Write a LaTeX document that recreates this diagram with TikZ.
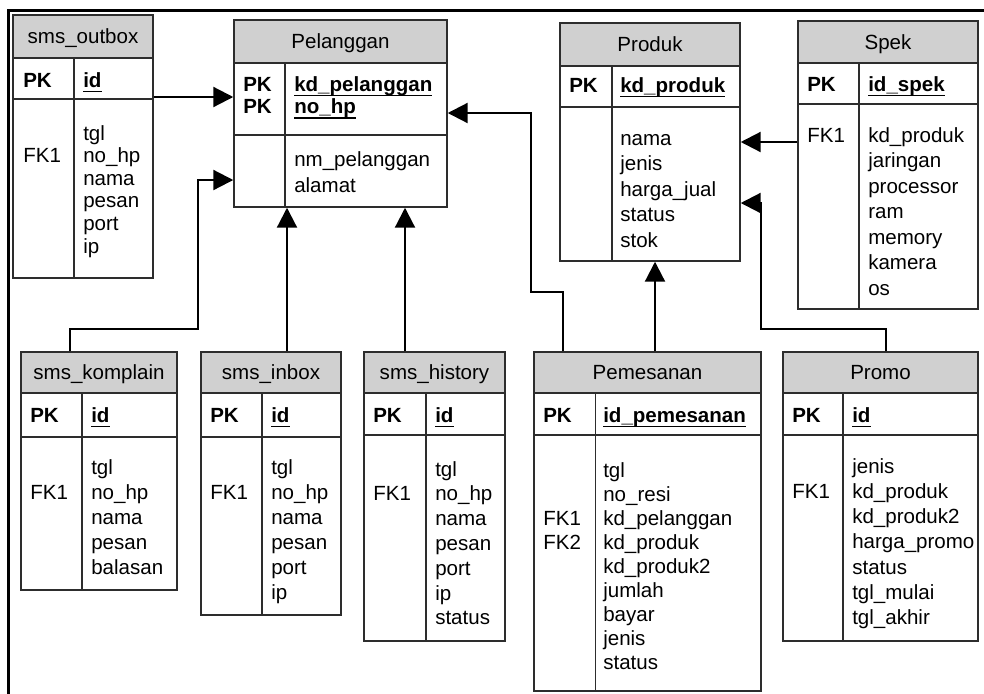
\documentclass[tikz,border=0pt]{standalone}
\usepackage{fontspec}
\setmainfont{Liberation Sans}
\usetikzlibrary{arrows.meta,fit}
\definecolor{hdrgray}{RGB}{208,208,208}
\definecolor{edgegray}{RGB}{45,45,45}
% bold key with a heavy underline
\newcommand\keyu[1]{\setbox0=\hbox{#1}\rlap{\rule[-4pt]{\wd0}{1.3pt}}\box0}
\tikzset{
  tbltxt/.style={font=\fontsize{15.4}{18}\selectfont, inner sep=0pt, anchor=base west},
  tblkey/.style={tbltxt, font=\fontsize{15.4}{18}\selectfont\bfseries},
  tbltitle/.style={font=\fontsize{15.4}{18}\selectfont, inner sep=0pt, anchor=base},
  tblframe/.style={draw=edgegray, line width=1.1pt, inner sep=0pt},
  tblline/.style={draw=edgegray, line width=1.1pt},
  fk/.style={line width=1.65pt, -{Triangle[length=15pt,width=15pt]}},
}
% #1 name, #2 left, #3 right, #4 divider, #5 top, #6 header bottom, #7 key bottom, #8 bottom, #9 title
\newcommand\ertable[9]{%
  \fill[hdrgray] (#2,#5) rectangle (#3,#6);
  \node[tblframe, fit={(#2,#5) (#3,#8)}] (#1) {};
  \draw[tblline] (#1.west |- 0,#6) -- (#1.east |- 0,#6)
                 (#1.west |- 0,#7) -- (#1.east |- 0,#7)
                 (#4,#6) -- (#1.south -| #4,0);
  \node[tbltitle] (#1-title) at ({(#2+#3)/2},{(#5+#6)/2+7}) {#9};
}
% #1 name, #2 x, #3 first baseline, #4 line step, #5 entries
\newcommand\fieldlist[5]{%
  \foreach \t [count=\i] in {#5} {\node[tbltxt] (#1-f\i) at (#2,{#3+(\i-1)*#4}) {\t};}
}
\begin{document}
\begin{tikzpicture}[x=0.75pt,y=-0.75pt]
\useasboundingbox (0,0) rectangle (984,693);
% outer frame
\draw[line width=1.9pt] (8.5,720) -- (8.5,10.7) -- (1000,10.7);

% ---------- sms_outbox ----------
\ertable{outbox}{13}{153}{74}{15}{58}{99}{278}{sms\_outbox}
\node[tblkey] (outbox-pk) at (23,87) {PK};
\node[tblkey] (outbox-id) at (83,87) {\keyu{id}};
\fieldlist{outbox}{83}{140}{22.6}{tgl, no\_hp, nama, pesan, port, ip}
\node[tbltxt] (outbox-fk1) at (23,162.6) {FK1};

% ---------- Pelanggan ----------
\ertable{pel}{234}{447}{285}{20}{63}{135}{207}{Pelanggan}
\node[tblkey] (pel-pk1) at (243,91) {PK};
\node[tblkey] (pel-pk2) at (243,113.5) {PK};
\node[tblkey] (pel-k1) at (294,91) {\keyu{kd\_pelanggan}};
\node[tblkey] (pel-k2) at (294,113.5) {\keyu{no\_hp}};
\fieldlist{pel}{294}{166}{26.5}{nm\_pelanggan, alamat}

% ---------- Produk ----------
\ertable{produk}{560}{740}{612}{23}{66}{107}{261}{Produk}
\node[tblkey] (produk-pk) at (569,92) {PK};
\node[tblkey] (produk-id) at (620,92) {\keyu{kd\_produk}};
\fieldlist{produk}{620}{145}{25.5}{nama, jenis, harga\_jual, status, stok}

% ---------- Spek ----------
\ertable{spek}{798}{978}{859}{21}{63}{104}{309}{Spek}
\node[tblkey] (spek-pk) at (807,91) {PK};
\node[tblkey] (spek-id) at (868,91) {\keyu{id\_spek}};
\fieldlist{spek}{868}{142}{25.5}{kd\_produk, jaringan, processor, ram, memory, kamera, os}
\node[tbltxt] (spek-fk1) at (807,142) {FK1};

% ---------- sms_komplain ----------
\ertable{komplain}{21}{177}{82}{352}{393}{437}{590}{sms\_komplain}
\node[tblkey] (komplain-pk) at (30,422) {PK};
\node[tblkey] (komplain-id) at (91,422) {\keyu{id}};
\fieldlist{komplain}{91}{474}{25}{tgl, no\_hp, nama, pesan, balasan}
\node[tbltxt] (komplain-fk1) at (30,499) {FK1};

% ---------- sms_inbox ----------
\ertable{inbox}{201}{341}{262}{352}{393}{437}{615}{sms\_inbox}
\node[tblkey] (inbox-pk) at (210,422) {PK};
\node[tblkey] (inbox-id) at (271,422) {\keyu{id}};
\fieldlist{inbox}{271}{474}{25}{tgl, no\_hp, nama, pesan, port, ip}
\node[tbltxt] (inbox-fk1) at (210,499) {FK1};

% ---------- sms_history ----------
\ertable{history}{364}{505}{426}{352}{393}{435}{641}{sms\_history}
\node[tblkey] (history-pk) at (373,422) {PK};
\node[tblkey] (history-id) at (435,422) {\keyu{id}};
\fieldlist{history}{435}{476}{24.8}{tgl, no\_hp, nama, pesan, port, ip, status}
\node[tbltxt] (history-fk1) at (373,500.8) {FK1};

% ---------- Pemesanan ----------
\ertable{pemesanan}{534}{761}{595.5}{352}{393}{435}{691}{Pemesanan}
\node[tblkey] (pemesanan-pk) at (543,422) {PK};
\node[tblkey] (pemesanan-id) at (603,422) {\keyu{id\_pemesanan}};
\fieldlist{pemesanan}{603}{477}{24}{tgl, no\_resi, kd\_pelanggan, kd\_produk, kd\_produk2, jumlah, bayar, jenis, status}
\node[tbltxt] (pemesanan-fk1) at (543,525) {FK1};
\node[tbltxt] (pemesanan-fk2) at (543,549) {FK2};

% ---------- Promo ----------
\ertable{promo}{783}{978}{843}{352}{393}{435}{641}{Promo}
\node[tblkey] (promo-pk) at (792,422) {PK};
\node[tblkey] (promo-id) at (852,422) {\keyu{id}};
\fieldlist{promo}{852}{473}{25.3}{jenis, kd\_produk, kd\_produk2, harga\_promo, status, tgl\_mulai, tgl\_akhir}
\node[tbltxt] (promo-fk1) at (792,498.3) {FK1};

% ---------- relationships ----------
\draw[fk] (outbox.east |- 0,97) -- (pel.west |- 0,97);
\draw[fk] (komplain.north -| 70,0) -- (70,329) -- (198,329) -- (198,180) -- (pel.west |- 0,180);
\draw[fk] (inbox.north -| 287,0) -- (pel.south -| 287,0);
\draw[fk] (history.north -| 405,0) -- (pel.south -| 405,0);
\draw[fk] (pemesanan.north -| 563,0) -- (563,292) -- (531,292) -- (531,113) -- (pel.east |- 0,113);
\draw[fk] (pemesanan.north -| 655,0) -- (produk.south -| 655,0);
\draw[fk] (spek.west |- 0,142) -- (produk.east |- 0,142);
\draw[fk] (promo.north -| 886,0) -- (886,329) -- (761,329) -- (761,203) -- (produk.east |- 0,203);
\end{tikzpicture}
\end{document}
